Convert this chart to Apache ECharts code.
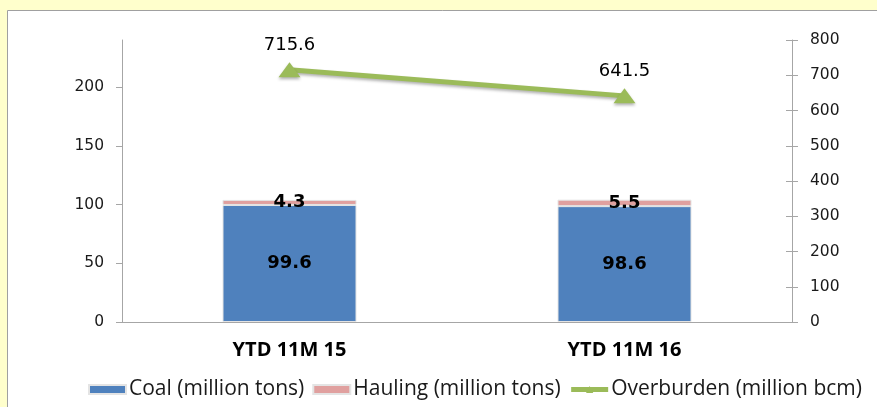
<!DOCTYPE html>
<html><head><meta charset="utf-8">
<script src="https://cdn.jsdelivr.net/npm/echarts@6/dist/echarts.min.js"></script>
<style>html,body{margin:0;padding:0;background:#FFFFCC;}#c{width:877px;height:407px;}</style>
</head><body><div id="c"></div>
<script>
const categories = ['YTD 11M 15', 'YTD 11M 16'];
const coal = [99.6, 98.6];
const hauling = [4.3, 5.5];
const overburden = [715.6, 641.5];
const leftTicks = [0, 50, 100, 150, 200];
const rightTicks = [0, 100, 200, 300, 400, 500, 600, 700, 800];

const chart = echarts.init(document.getElementById('c'));
const axisGrey = '#A6A6A6';
const numFont = 'DejaVu Sans';
const textFont = "'Open Sans', sans-serif";
chart.setOption({
  backgroundColor: '#FFFFCC',
  animation: false,
  graphic: [{
    type: 'rect', left: 7, top: 10, z: -10,
    shape: { width: 900, height: 420 },
    style: { fill: '#FFFFFF', stroke: '#A0A0A0', lineWidth: 1 }
  }],
  grid: { left: 122, right: 85, top: 40, bottom: 85 },
  legend: {
    left: 83, top: 374, itemGap: 8, itemWidth: 37, itemHeight: 9,
    textStyle: { fontFamily: textFont, fontSize: 21, color: '#1a1a1a', padding: [0, 0, 0, -2] },
    data: [
      { name: 'Coal (million tons)', icon: 'rect' },
      { name: 'Hauling (million tons)', icon: 'rect' },
      { name: 'Overburden (million bcm)', lineStyle: { width: 5 } }
    ]
  },
  xAxis: {
    type: 'category', data: categories,
    axisLine: { lineStyle: { color: axisGrey } },
    axisTick: { length: 6, lineStyle: { color: axisGrey } },
    axisLabel: { margin: 18, fontFamily: textFont, fontWeight: 'bold', fontSize: 20, color: '#000' }
  },
  yAxis: [
    {
      type: 'value', min: 0, max: 240, interval: 50, splitLine: { show: false },
      axisLine: { show: true, lineStyle: { color: axisGrey } },
      axisTick: { show: true, length: 6, lineStyle: { color: axisGrey }, customValues: leftTicks },
      axisLabel: { margin: 18, fontFamily: numFont, fontSize: 15.5, color: '#1a1a1a', customValues: leftTicks }
    },
    {
      type: 'value', position: 'right', min: 0, max: 800, interval: 100, splitLine: { show: false },
      axisLine: { show: true, lineStyle: { color: axisGrey } },
      axisTick: { show: true, length: 6, lineStyle: { color: axisGrey } },
      axisLabel: { margin: 18, fontFamily: numFont, fontSize: 15.5, color: '#1a1a1a', customValues: rightTicks }
    },
    {
      type: 'value', position: 'right', min: 0, max: 800, interval: 100, splitLine: { show: false },
      axisLine: { show: false },
      axisTick: { show: true, inside: true, length: 6, lineStyle: { color: axisGrey } },
      axisLabel: { show: false }
    }
  ],
  series: [
    {
      name: 'Coal (million tons)', type: 'bar', stack: 't', barWidth: '40%', data: coal,
      itemStyle: { color: '#4F81BD', borderColor: '#E4E4E4', borderWidth: 1 },
      label: { show: true, position: 'inside', fontFamily: numFont, fontWeight: 'bold', fontSize: 18, color: '#000' }
    },
    {
      name: 'Hauling (million tons)', type: 'bar', stack: 't', barWidth: '40%', data: hauling,
      itemStyle: { color: '#E0A09F', borderColor: '#E4E4E4', borderWidth: 1 },
      label: { show: true, position: 'inside', fontFamily: numFont, fontWeight: 'bold', fontSize: 18, color: '#000' }
    },
    {
      name: 'Overburden (million bcm)', type: 'line', yAxisIndex: 1, data: overburden,
      symbol: 'triangle', symbolSize: [22, 15],
      lineStyle: { color: '#9BBB59', width: 5, shadowColor: 'rgba(0,0,0,0.3)', shadowBlur: 3, shadowOffsetY: 2 },
      itemStyle: { color: '#9BBB59', shadowColor: 'rgba(0,0,0,0.3)', shadowBlur: 3, shadowOffsetY: 2 },
      label: { show: true, position: 'top', distance: 8, fontFamily: numFont, fontSize: 18, color: '#000', formatter: p => p.value.toFixed(1) }
    }
  ]
});
</script></body></html>
